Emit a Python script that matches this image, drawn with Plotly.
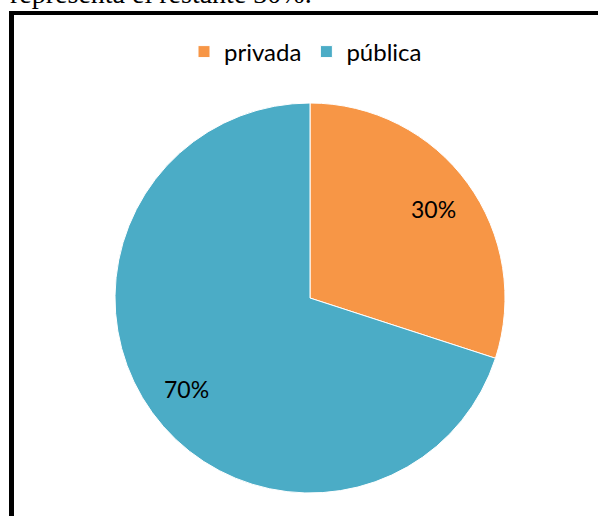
import math
import plotly.graph_objects as go

# Data
labels = ["privada", "pública"]
values = [30, 70]
colors = ["#F79646", "#4BACC6"]
caption = "representa el restante 30%."

W, H = 598, 516

def px_x(px):
    return px / W

def px_y(py):
    # py measured from top of page
    return 1 - py / H

# pie geometry in page pixels
cx, cy, r = 310, 298, 195
label_frac = 0.785

fig = go.Figure(
    go.Pie(
        labels=labels,
        values=values,
        marker=dict(colors=colors, line=dict(color="#FFFFFF", width=1)),
        sort=False,
        direction="clockwise",
        rotation=0,
        textinfo="none",
        hoverinfo="label+percent",
        domain=dict(
            x=[px_x(cx - r), px_x(cx + r)],
            y=[px_y(cy + r), px_y(cy - r)],
        ),
    )
)

shapes = [
    # left edge of the frame
    dict(type="line", xref="paper", yref="paper",
         x0=px_x(11.5), x1=px_x(11.5), y0=px_y(11), y1=px_y(H + 10),
         line=dict(color="#000000", width=5)),
    # top edge of the frame
    dict(type="line", xref="paper", yref="paper",
         x0=px_x(9), x1=px_x(W + 10), y0=px_y(13), y1=px_y(13),
         line=dict(color="#000000", width=4)),
]

annotations = [
    dict(text=caption, xref="paper", yref="paper",
         x=px_x(8), y=px_y(11), xanchor="left", yanchor="bottom",
         showarrow=False,
         font=dict(family="Liberation Serif", size=28, color="#000000")),
]

# percentage labels placed along each slice's bisector
total = sum(values)
start = 0.0
for v in values:
    frac = v / total
    mid = (start + frac / 2) * 2 * math.pi  # clockwise from 12 o'clock
    lx = cx + label_frac * r * math.sin(mid)
    ly = cy - label_frac * r * math.cos(mid)
    annotations.append(dict(
        text=f"{round(frac * 100)}%", xref="paper", yref="paper",
        x=px_x(lx), y=px_y(ly + 1), xanchor="center", yanchor="middle",
        showarrow=False,
        font=dict(family="Lato", size=23, color="#000000"),
    ))
    start += frac

fig.update_layout(
    width=W,
    height=H,
    margin=dict(l=0, r=0, t=0, b=0),
    paper_bgcolor="#FFFFFF",
    plot_bgcolor="#FFFFFF",
    shapes=shapes,
    annotations=annotations,
    showlegend=True,
    legend=dict(
        orientation="h",
        x=px_x(184), xanchor="left",
        y=px_y(52), yanchor="middle",
        font=dict(family="Lato", size=24, color="#000000"),
        itemwidth=30,
        bgcolor="rgba(0,0,0,0)",
    ),
)

fig.write_html("out.html")
